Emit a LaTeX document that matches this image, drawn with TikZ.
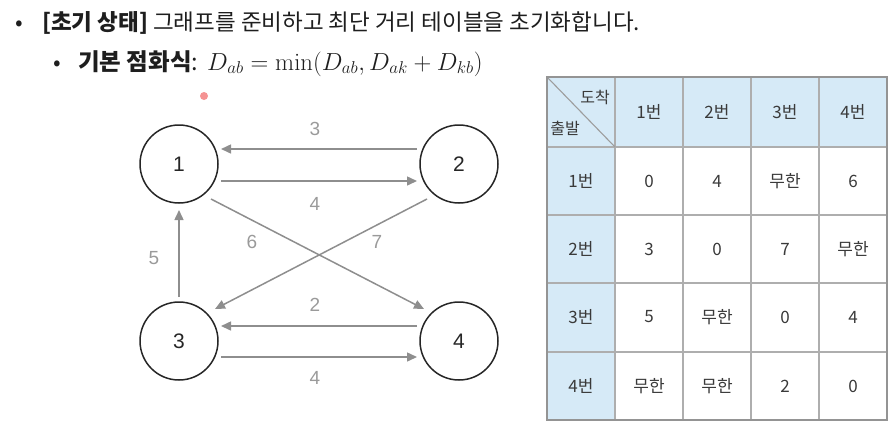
\documentclass[tikz,border=0pt]{standalone}
\usepackage{graphicx}
\usepackage[no-math]{fontspec}
\setmainfont{Noto Sans CJK KR}
\newfontfamily\lat{Liberation Sans}
\usetikzlibrary{arrows.meta,calc}
\definecolor{edgegray}{HTML}{8E8E8E}
\definecolor{lblgray}{HTML}{9A9A9A}
\definecolor{hdrblue}{HTML}{D6EAF7}
\definecolor{gridgray}{HTML}{AEAEAE}
\definecolor{tabtxt}{HTML}{3A3A3A}
\definecolor{titletxt}{HTML}{1E1E1E}
\definecolor{dotred}{HTML}{F27878}
\begin{document}
\begin{tikzpicture}[x=1pt,y=-1pt,
  vtx/.style={circle,draw=black!85,line width=1.5pt,minimum size=78pt,inner sep=0pt,font=\lat\fontsize{21}{21}\selectfont,text=black!85},
  arr/.style={draw=edgegray,line width=1.5pt,-{Triangle[length=10pt,width=9pt]}},
  elbl/.style={font=\lat\fontsize{19}{19}\selectfont,text=lblgray,inner sep=0pt},
  cell/.style={font=\fontsize{17}{17}\selectfont,text=tabtxt,inner sep=0pt},
  ttl/.style={font=\fontsize{22.5}{22.5}\selectfont,text=titletxt,anchor=base west,inner sep=0pt}]
\path[use as bounding box] (0,0) rectangle (893,429);

% title lines
\node[ttl] (b1) at (15,30) {•};
\node[ttl] (t1) at (42,30) {\textbf{[초기 상태]} 그래프를 준비하고 최단 거리 테이블을 초기화합니다.};
\node[ttl] (b2) at (53,70) {•};
\node[ttl,font=\fontsize{23.5}{23.5}\selectfont] (t2) at (78,70) {\textbf{기본 점화식}:};
\node[ttl,font=\fontsize{21}{21}\selectfont] (eq) at (207,70) {\scalebox{1.19}{$D_{ab} = \min(D_{ab}, D_{ak} + D_{kb})$}};

% pointer dot
\fill[dotred,opacity=0.8] (204,96) circle (4);

% graph
\node[vtx] (n1) at (179,164) {1};
\node[vtx] (n2) at (459,164) {2};
\node[vtx] (n3) at (179,341) {3};
\node[vtx] (n4) at (459,341) {4};

\draw[arr] ($(n2)+(-42,-15)$) -- ($(n1)+(42,-15)$);
\draw[arr] ($(n1)+(42,17)$) -- ($(n2)+(-42,17)$);
\draw[arr] ($(n4)+(-42,-15)$) -- ($(n3)+(42,-15)$);
\draw[arr] ($(n3)+(42,16)$) -- ($(n4)+(-42,16)$);
\draw[arr] ($(n1)+(32,35)$) -- ($(n4)+(-35,-32)$);
\draw[arr] ($(n2)+(-32,35)$) -- ($(n3)+(36,-32)$);
\draw[arr] ($(n3)+(0,-44)$) -- ($(n1)+(0,46)$);

\node[elbl] (l21) at (315,129) {3};
\node[elbl] (l12) at (315,204) {4};
\node[elbl] (l14) at (252,242) {6};
\node[elbl] (l23) at (377,242) {7};
\node[elbl] (l31) at (154,258) {5};
\node[elbl] (l43) at (315,305) {2};
\node[elbl] (l34) at (315,378) {4};

% table
\def\xa{547}\def\xb{615}\def\xc{683}\def\xd{751}\def\xe{819}\def\xf{887}
\def\ya{77}\def\yb{147}\def\yc{215}\def\yd{283}\def\ye{352}\def\yf{420}
\fill[hdrblue] (\xa,\ya) rectangle (\xf,\yb);
\fill[hdrblue] (\xa,\yb) rectangle (\xb,\yf);
\draw[gridgray,line width=1.1pt]
  (\xa,\yb) -- (\xf,\yb) (\xa,\yc) -- (\xf,\yc) (\xa,\yd) -- (\xf,\yd) (\xa,\ye) -- (\xf,\ye)
  (\xb,\ya) -- (\xb,\yf) (\xc,\ya) -- (\xc,\yf) (\xd,\ya) -- (\xd,\yf) (\xe,\ya) -- (\xe,\yf);
\draw[gridgray!90!black,line width=1.1pt] (\xa,\ya) -- (\xb,\yb);
\draw[gridgray!85!black,line width=1.3pt] (\xa,\ya) rectangle (\xf,\yf);

\node[cell,font=\fontsize{16}{16}\selectfont] (dst) at (595,97) {도착};
\node[cell,font=\fontsize{16}{16}\selectfont] (src) at (565,128) {출발};

\node[cell] (h1) at (649,112) {1번};
\node[cell] (h2) at (717,112) {2번};
\node[cell] (h3) at (785,112) {3번};
\node[cell] (h4) at (853,112) {4번};

\node[cell] (r1) at (581,181) {1번};
\node[cell] (r2) at (581,249) {2번};
\node[cell] (r3) at (581,317) {3번};
\node[cell] (r4) at (581,386) {4번};

\node[cell] (c11) at (649,181) {0};
\node[cell] (c12) at (717,181) {4};
\node[cell] (c13) at (785,181) {무한};
\node[cell] (c14) at (853,181) {6};

\node[cell] (c21) at (649,249) {3};
\node[cell] (c22) at (717,249) {0};
\node[cell] (c23) at (785,249) {7};
\node[cell] (c24) at (853,249) {무한};

\node[cell] (c31) at (649,317) {5};
\node[cell] (c32) at (717,317) {무한};
\node[cell] (c33) at (785,317) {0};
\node[cell] (c34) at (853,317) {4};

\node[cell] (c41) at (649,386) {무한};
\node[cell] (c42) at (717,386) {무한};
\node[cell] (c43) at (785,386) {2};
\node[cell] (c44) at (853,386) {0};
\end{tikzpicture}
\end{document}
